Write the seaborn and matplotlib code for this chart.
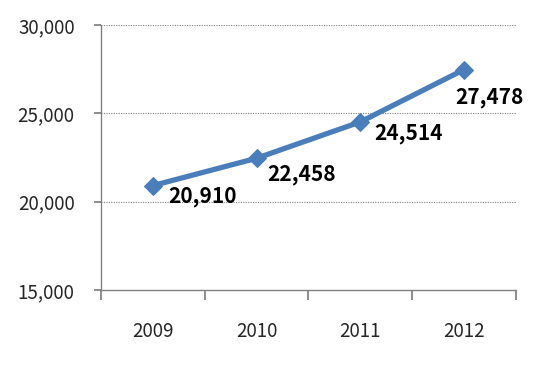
import matplotlib
matplotlib.use("Agg")
import matplotlib.pyplot as plt
import seaborn as sns
import pandas as pd

years = ["2009", "2010", "2011", "2012"]
values = [20910, 22458, 24514, 27478]
value_labels = ["20,910", "22,458", "24,514", "27,478"]
y_ticks = [15000, 20000, 25000, 30000]
y_tick_labels = ["15,000", "20,000", "25,000", "30,000"]

# label offsets (points) relative to each marker
label_offsets = [(11, -8), (8, -12), (10, -8), (-6, -20)]

sns.set_theme(style="white")
plt.rcParams["font.family"] = ["Noto Sans CJK KR", "DejaVu Sans"]

df = pd.DataFrame({"year": years, "value": values})

fig = plt.figure(figsize=(5.33, 3.65), dpi=100)
ax = fig.add_axes([0.1895, 0.2055, 0.7785, 0.726])

color = "#4A7EBB"
sns.lineplot(data=df, x="year", y="value", ax=ax, color=color, linewidth=3.8,
             marker="D", markersize=9, markeredgecolor=color, markerfacecolor=color,
             sort=False)

ax.set_ylim(15000, 30000)
ax.set_xlim(-0.5, 3.5)
ax.set_yticks(y_ticks)
ax.set_yticklabels(y_tick_labels, fontsize=13.5)
ax.set_xticks([-0.5, 0.5, 1.5, 2.5, 3.5])
ax.set_xticklabels([])
ax.set_xticks([0, 1, 2, 3], minor=True)
ax.set_xticklabels(years, minor=True, fontsize=13.5)
ax.tick_params(axis="x", which="major", length=7, color="#808080", direction="out", bottom=True)
ax.tick_params(axis="x", which="minor", length=0, pad=22)
ax.tick_params(axis="y", length=5, color="#808080", direction="out", left=True, pad=14)
ax.set_xlabel("")
ax.set_ylabel("")

for s in ["top", "right"]:
    ax.spines[s].set_visible(False)
for s in ["left", "bottom"]:
    ax.spines[s].set_color("#808080")
    ax.spines[s].set_linewidth(1.0)

for yv in y_ticks[1:]:
    ax.axhline(yv, color="#808080", linestyle=(0, (1, 1.2)), linewidth=0.8, zorder=0)

for i, (v, lab) in enumerate(zip(values, value_labels)):
    ax.annotate(lab, (i, v), xytext=label_offsets[i], textcoords="offset points",
                ha="left", va="center", fontsize=15, fontweight="bold", color="black")

fig.savefig("out.png", dpi=100)
